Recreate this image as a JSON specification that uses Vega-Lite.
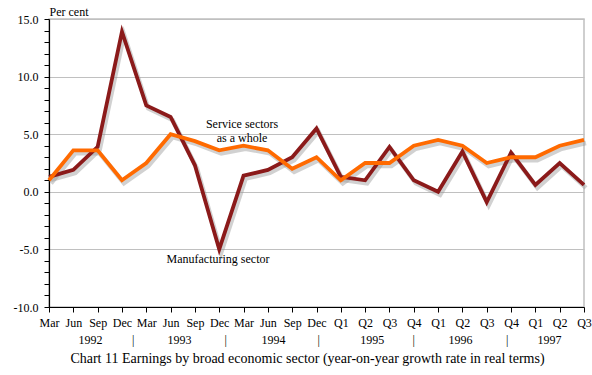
{
  "$schema": "https://vega.github.io/schema/vega-lite/v6.json",
  "width": 535,
  "height": 288,
  "autosize": "none",
  "padding": {"left": 49, "top": 19, "right": 8, "bottom": 68},
  "background": "white",
  "config": {
    "font": "Liberation Serif",
    "view": {"stroke": "#c0c0c0", "strokeWidth": 1.5}
  },
  "title": {
    "text": "Chart 11 Earnings by broad economic sector (year-on-year growth rate in real terms)",
    "orient": "bottom",
    "anchor": "middle",
    "dx": -9,
    "offset": 7,
    "font": "Liberation Serif",
    "fontSize": 14,
    "fontWeight": "normal",
    "color": "black"
  },
  "datasets": {
    "series": [
      {"i": 0, "sector": "Manufacturing", "value": 1.3},
      {"i": 1, "sector": "Manufacturing", "value": 1.9},
      {"i": 2, "sector": "Manufacturing", "value": 3.9},
      {"i": 3, "sector": "Manufacturing", "value": 13.9},
      {"i": 4, "sector": "Manufacturing", "value": 7.5},
      {"i": 5, "sector": "Manufacturing", "value": 6.5},
      {"i": 6, "sector": "Manufacturing", "value": 2.3},
      {"i": 7, "sector": "Manufacturing", "value": -5.0},
      {"i": 8, "sector": "Manufacturing", "value": 1.4},
      {"i": 9, "sector": "Manufacturing", "value": 1.9},
      {"i": 10, "sector": "Manufacturing", "value": 3.0},
      {"i": 11, "sector": "Manufacturing", "value": 5.5},
      {"i": 12, "sector": "Manufacturing", "value": 1.3},
      {"i": 13, "sector": "Manufacturing", "value": 1.0},
      {"i": 14, "sector": "Manufacturing", "value": 3.9},
      {"i": 15, "sector": "Manufacturing", "value": 1.0},
      {"i": 16, "sector": "Manufacturing", "value": 0.0},
      {"i": 17, "sector": "Manufacturing", "value": 3.5},
      {"i": 18, "sector": "Manufacturing", "value": -0.9},
      {"i": 19, "sector": "Manufacturing", "value": 3.4},
      {"i": 20, "sector": "Manufacturing", "value": 0.6},
      {"i": 21, "sector": "Manufacturing", "value": 2.5},
      {"i": 22, "sector": "Manufacturing", "value": 0.6},
      {"i": 0, "sector": "Service", "value": 1.0},
      {"i": 1, "sector": "Service", "value": 3.6},
      {"i": 2, "sector": "Service", "value": 3.6},
      {"i": 3, "sector": "Service", "value": 1.0},
      {"i": 4, "sector": "Service", "value": 2.5},
      {"i": 5, "sector": "Service", "value": 5.0},
      {"i": 6, "sector": "Service", "value": 4.4},
      {"i": 7, "sector": "Service", "value": 3.6},
      {"i": 8, "sector": "Service", "value": 4.0},
      {"i": 9, "sector": "Service", "value": 3.6},
      {"i": 10, "sector": "Service", "value": 2.0},
      {"i": 11, "sector": "Service", "value": 3.0},
      {"i": 12, "sector": "Service", "value": 1.0},
      {"i": 13, "sector": "Service", "value": 2.5},
      {"i": 14, "sector": "Service", "value": 2.5},
      {"i": 15, "sector": "Service", "value": 4.0},
      {"i": 16, "sector": "Service", "value": 4.5},
      {"i": 17, "sector": "Service", "value": 4.0},
      {"i": 18, "sector": "Service", "value": 2.5},
      {"i": 19, "sector": "Service", "value": 3.0},
      {"i": 20, "sector": "Service", "value": 3.0},
      {"i": 21, "sector": "Service", "value": 4.0},
      {"i": 22, "sector": "Service", "value": 4.5}
    ],
    "notes": [
      {"x": 7.94, "y": 5.9, "text": ["Service sectors", "as a whole"]},
      {"x": 6.95, "y": -5.8, "text": ["Manufacturing sector"]}
    ]
  },
  "resolve": {"axis": {"x": "independent", "y": "independent"}},
  "layer": [
    {
      "data": {"name": "series"},
      "mark": {"type": "line", "strokeWidth": 4.5, "color": "#9a9a9a", "opacity": 0.45, "xOffset": 2, "yOffset": 3},
      "encoding": {
        "x": {
          "field": "i", "type": "quantitative",
          "scale": {"domain": [0, 22], "nice": false, "zero": false},
          "axis": {
            "orient": "bottom",
            "values": [0,1,2,3,4,5,6,7,8,9,10,11,12,13,14,15,16,17,18,19,20,21,22],
            "labelExpr": "['Mar','Jun','Sep','Dec','Mar','Jun','Sep','Dec','Mar','Jun','Sep','Dec','Q1','Q2','Q3','Q4','Q1','Q2','Q3','Q4','Q1','Q2','Q3'][datum.value]",
            "title": null,
            "grid": false,
            "domainColor": "black",
            "domainWidth": 1.2,
            "tickColor": "black",
            "tickSize": 5,
            "labelPadding": 5,
            "labelFont": "Liberation Serif",
            "labelFontSize": 12,
            "labelColor": "black",
            "labelOverlap": false,
            "labelFlush": false
          }
        },
        "y": {
          "field": "value", "type": "quantitative",
          "scale": {"domain": [-10, 15], "nice": false, "zero": false},
          "axis": {
            "orient": "left",
            "values": [-10, -5, 0, 5, 10, 15],
            "labelExpr": "datum.value + '.0'",
            "grid": true,
            "gridColor": "#c0c0c0",
            "gridWidth": 1.2,
            "domainColor": "black",
            "domainWidth": 1.2,
            "tickColor": "black",
            "tickSize": 5,
            "labelPadding": 6,
            "labelFont": "Liberation Serif",
            "labelFontSize": 12,
            "labelColor": "black",
            "labelOverlap": false,
            "labelFlush": false,
            "title": "Per cent",
            "titleAngle": 0,
            "titleX": 0,
            "titleY": -8,
            "titleAlign": "left",
            "titleBaseline": "middle",
            "titleFont": "Liberation Serif",
            "titleFontSize": 12,
            "titleFontWeight": "normal",
            "titleColor": "black"
          }
        },
        "detail": {"field": "sector"}
      }
    },
    {
      "data": {"name": "series"},
      "transform": [{"filter": "datum.sector == 'Manufacturing'"}],
      "mark": {"type": "line", "strokeWidth": 3.8, "color": "#8b1a1a", "strokeJoin": "miter"},
      "encoding": {
        "x": {"field": "i", "type": "quantitative", "axis": null},
        "y": {"field": "value", "type": "quantitative", "axis": null}
      }
    },
    {
      "data": {"name": "series"},
      "transform": [{"filter": "datum.sector == 'Service'"}],
      "mark": {"type": "line", "strokeWidth": 3.8, "color": "#ff6a00", "strokeJoin": "miter"},
      "encoding": {
        "x": {"field": "i", "type": "quantitative", "axis": null},
        "y": {"field": "value", "type": "quantitative", "axis": null}
      }
    },
    {
      "data": {"name": "notes"},
      "mark": {"type": "text", "font": "Liberation Serif", "fontSize": 12, "color": "black", "align": "center", "baseline": "middle", "lineHeight": 14},
      "encoding": {
        "x": {
          "field": "x", "type": "quantitative",
          "axis": {
            "orient": "bottom",
            "values": [1.69, 3.44, 5.35, 7.25, 9.21, 11.07, 13.27, 14.98, 16.9, 18.82, 20.56],
            "labelExpr": "datum.value < 2 ? '1992' : datum.value < 4 ? '|' : datum.value < 6 ? '1993' : datum.value < 8 ? '|' : datum.value < 10 ? '1994' : datum.value < 12 ? '|' : datum.value < 14 ? '1995' : datum.value < 15.5 ? '|' : datum.value < 17.5 ? '1996' : datum.value < 19.5 ? '|' : '1997'",
            "labelFontWeight": {"condition": {"test": "datum.label == '|'", "value": "bold"}, "value": "normal"},
            "title": null,
            "grid": false,
            "domain": false,
            "ticks": false,
            "labelPadding": 27,
            "labelFont": "Liberation Serif",
            "labelFontSize": 12,
            "labelColor": "black",
            "labelOverlap": false,
            "labelFlush": false
          }
        },
        "y": {
          "field": "y", "type": "quantitative",
          "axis": {
            "orient": "left",
            "values": [-9,-8,-7,-6,-4,-3,-2,-1,1,2,3,4,6,7,8,9,11,12,13,14],
            "labels": false,
            "grid": false,
            "domain": false,
            "ticks": true,
            "tickColor": "black",
            "tickSize": 5,
            "title": null
          }
        },
        "text": {"field": "text"}
      }
    }
  ]
}
